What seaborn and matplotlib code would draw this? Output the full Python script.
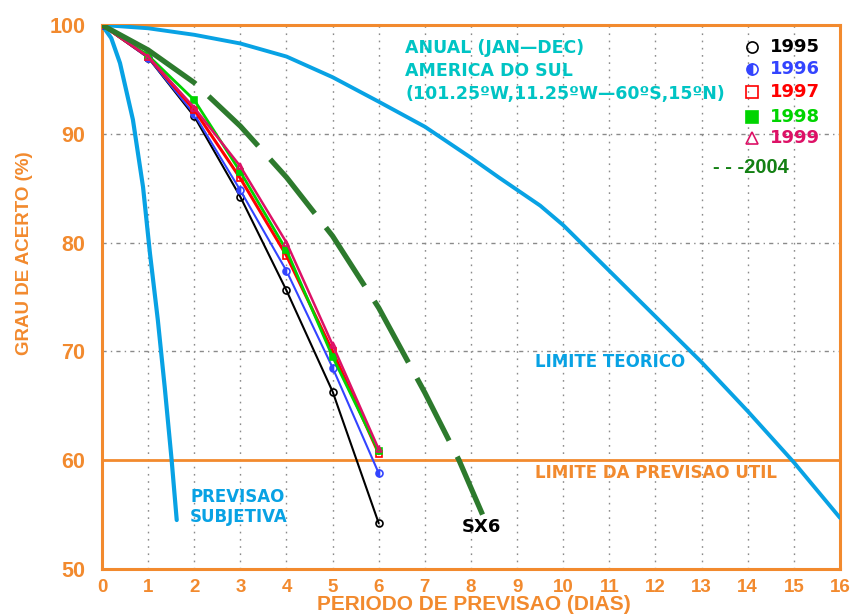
import matplotlib
matplotlib.use("Agg")
import matplotlib.pyplot as plt
import seaborn as sns
import pandas as pd

# dados
dias = [0, 1, 2, 3, 4, 5, 6]
acerto_1995 = [100, 97.0, 91.6, 84.2, 75.6, 66.3, 54.2]
acerto_1996 = [100, 97.0, 91.8, 84.8, 77.4, 68.5, 58.8]
acerto_1997 = [100, 97.1, 92.2, 85.9, 78.8, 70.0, 60.6]
acerto_1998 = [100, 97.2, 93.1, 86.5, 79.3, 69.5, 60.8]
acerto_1999 = [100, 97.1, 92.4, 87.0, 80.0, 70.6, 61.0]

dias_2004 = [0, 1, 2, 3, 4, 5, 6, 7, 7.74, 8.25]
acerto_2004 = [100, 97.7, 94.7, 90.7, 86.0, 80.6, 74.0, 66.2, 60.0, 55.0]

dias_teorico = [0, 1, 2, 3, 4, 5, 6, 7, 8, 8.6, 9.5, 10, 11, 12, 13, 14, 15, 16]
acerto_teorico = [100, 99.7, 99.1, 98.3, 97.1, 95.2, 92.95, 90.65, 87.8, 86.0,
                  83.4, 81.6, 77.4, 73.2, 69.0, 64.5, 59.8, 54.7]

dias_subj = [0, 0.2, 0.39, 0.67, 0.89, 1.04, 1.21, 1.36, 1.51, 1.62]
acerto_subj = [100, 98.8, 96.5, 91.3, 85.1, 79.0, 72.9, 66.7, 60.0, 54.5]

LARANJA = "#f28a2e"
AZUL_CLARO = "#08a2e4"
CIANO = "#00c4c4"
VERDE_ESC = "#2d7a2d"

anos = [
    ("1995", acerto_1995, "black", "o", "none", 1.5),
    ("1996", acerto_1996, "#3344ff", "o", "left", 1.5),
    ("1997", acerto_1997, "#ff0000", "s", "none", 2.2),
    ("1998", acerto_1998, "#00d400", "s", "full", 2.0),
    ("1999", acerto_1999, "#dd1166", "^", "none", 1.8),
]

sns.set_style("white")
plt.rcParams["font.family"] = ["DejaVu Sans"]

fig = plt.figure(figsize=(8.53, 6.16), dpi=100)
ax = fig.add_axes([102 / 853, 1 - 569 / 616, 738 / 853, 544 / 616])

# grade
for xv in range(1, 16):
    ax.axvline(xv, color="#8a8a8a", lw=1.0, ls=(0, (1.2, 4)), zorder=1)
for yv in [70, 80, 90]:
    ax.axhline(yv, color="#8a8a8a", lw=1.0, ls=(0, (3, 3, 1, 3)), zorder=1)
ax.axhline(60, color=LARANJA, lw=2.0, zorder=2)

sns.lineplot(x=dias_teorico, y=acerto_teorico, ax=ax, color=AZUL_CLARO, lw=2.8, zorder=3)
sns.lineplot(x=dias_subj, y=acerto_subj, ax=ax, color=AZUL_CLARO, lw=3.0, zorder=3, sort=False)

for nome, vals, cor, mk, fill, lw in anos:
    df = pd.DataFrame({"dia": dias, "acerto": vals})
    sns.lineplot(data=df, x="dia", y="acerto", ax=ax, color=cor, lw=lw,
                 marker=mk, markersize=5, fillstyle=fill,
                 markeredgecolor=cor, markerfacecolor=cor if fill != "none" else "none",
                 markerfacecoloralt="white", markeredgewidth=1.2, zorder=4)

sns.lineplot(x=dias_2004, y=acerto_2004, ax=ax, color=VERDE_ESC, lw=3.8,
             linestyle=(0, (21, 3.4, 13.3, 3.4, 13.3, 3.4, 13.3, 3.4, 13.3, 3.4, 13.3, 3.4, 13.3, 3.4)),
             zorder=5)

ax.set_xlim(0, 16)
ax.set_ylim(50, 100)
ax.set_xticks(range(0, 17))
ax.set_yticks(range(50, 101, 10))

for s in ax.spines.values():
    s.set_color(LARANJA)
    s.set_linewidth(2.2)

ax.tick_params(axis="both", colors=LARANJA, direction="out", length=6, width=2)
for lab in ax.get_xticklabels():
    lab.set_fontfamily("Liberation Sans")
    lab.set_fontweight("bold")
    lab.set_fontsize(13.5)
for lab in ax.get_yticklabels():
    lab.set_fontfamily("Liberation Sans")
    lab.set_fontweight("bold")
    lab.set_fontsize(15.5)
ax.tick_params(axis="x", pad=1)
ax.tick_params(axis="y", pad=6)

ax.set_xlabel("PERIODO DE PREVISAO (DIAS)", color=LARANJA, fontsize=15,
              fontweight="bold", family="Liberation Sans")
ax.xaxis.set_label_coords(0.504, -0.047)
ax.set_ylabel("GRAU DE ACERTO (%)", color=LARANJA, fontsize=13.5,
              fontweight="bold", family="Liberation Sans")
ax.yaxis.set_label_coords(-0.093, 0.58)

# textos
txt = dict(fontweight="bold", family="DejaVu Sans")
ax.text(6.57, 97.43, "ANUAL (JAN—DEC)", color=CIANO, fontsize=12.5, va="baseline", **txt)
ax.text(6.57, 95.31, "AMERICA DO SUL", color=CIANO, fontsize=12.5, va="baseline", **txt)
ax.text(6.57, 93.2, "(101.25ºW,11.25ºW—60ºS,15ºN)", color=CIANO, fontsize=12.5,
        va="baseline", **txt)

leg_y = [97.98, 95.96, 93.84, 91.54, 89.61]
for (nome, vals, cor, mk, fill, lw), yy in zip(anos, leg_y):
    ax.plot([14.1], [yy], marker=mk, markersize=8, fillstyle=fill, color=cor,
            markeredgecolor=cor, markerfacecolor=cor if fill != "none" else "none",
            markerfacecoloralt="white", markeredgewidth=1.2, ls="none", zorder=6)
    ax.text(14.49, yy, nome, color=cor, fontsize=13, va="center", **txt)
ax.text(13.25, 86.86, "- - -2004", color="#138013", fontsize=14.5, va="center",
        fontweight="bold", family="Liberation Sans")

ax.text(9.39, 69.03, "LIMITE TEORICO", color=AZUL_CLARO, fontsize=12, va="center", **txt)
ax.text(9.39, 58.82, "LIMITE DA PREVISAO UTIL", color=LARANJA, fontsize=12, va="center", **txt)
ax.text(1.91, 56.62, "PREVISAO", color=AZUL_CLARO, fontsize=12, va="center", **txt)
ax.text(1.91, 54.78, "SUBJETIVA", color=AZUL_CLARO, fontsize=12, va="center", **txt)
ax.text(7.81, 53.86, "SX6", color="black", fontsize=13, va="center", **txt)

fig.savefig("out.png", dpi=100)
plt.close(fig)
